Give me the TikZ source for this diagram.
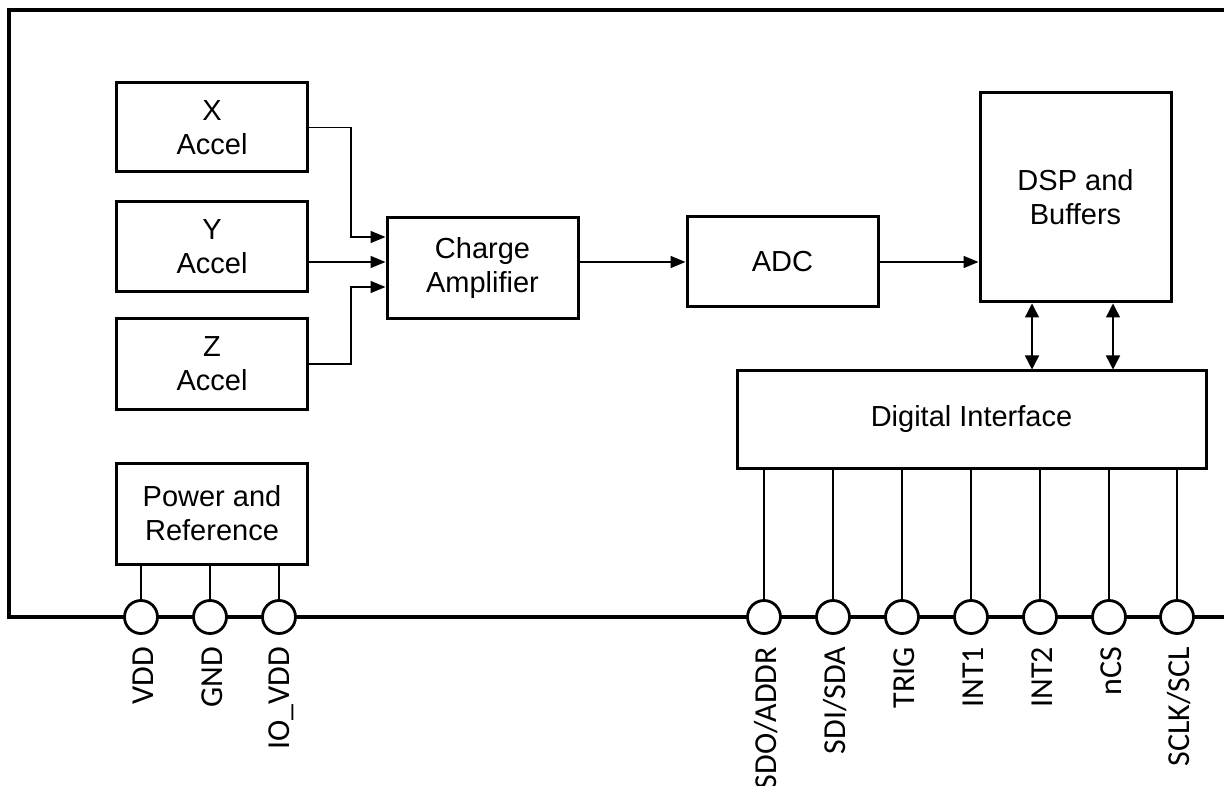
\documentclass[tikz,border=0pt]{standalone}
\usepackage{fontspec}
\setmainfont{Liberation Sans}
\newfontfamily\pinfont{Carlito}
\usetikzlibrary{arrows.meta}
\begin{document}
\begin{tikzpicture}[x=1pt,y=-1pt,
  blk/.style={draw,line width=3pt,inner sep=0pt,align=center,
    font=\fontsize{29}{34}\selectfont},
  conn/.style={line width=1.4pt},
  arr/.style={conn,-{Triangle[length=15pt,width=12pt]}},
  darr/.style={conn,{Triangle[length=14pt,width=14pt]}-{Triangle[length=14pt,width=14pt]}},
  pin/.style={circle,draw,fill=white,line width=2.8pt,minimum size=33pt,inner sep=0pt},
  pinlbl/.style={rotate=90,anchor=east,inner sep=0pt,font=\pinfont\fontsize{32}{32}\selectfont},
  frame/.style={line width=3.2pt}]
\useasboundingbox (0,0) rectangle (1224,786);
% outer frame
\draw[frame] (1224,10) -- (9,10) -- (9,617) -- (1224,617);
% blocks
\node[blk,minimum width=191pt,minimum height=89pt] (xacc) at (212,127.5) {X\\Accel};
\node[blk,minimum width=191pt,minimum height=90pt] (yacc) at (212,247) {Y\\Accel};
\node[blk,minimum width=191pt,minimum height=90pt] (zacc) at (212,364) {Z\\Accel};
\node[blk,minimum width=191pt,minimum height=101pt] (ca) at (482.5,268.5) {Charge\\Amplifier};
\node[blk,minimum width=191pt,minimum height=90pt] (adc) at (782.5,262) {ADC};
\node[blk,minimum width=191pt,minimum height=209pt] (dsp) at (1075.5,197.5) {DSP and\\Buffers};
\node[blk,minimum width=469pt,minimum height=97pt] (di) at (971.5,419.5) {Digital Interface};
\node[blk,minimum width=191pt,minimum height=101pt] (pwr) at (212,513.5) {Power and\\Reference};
% connector bend points
\coordinate (xb1) at (351,127.5);
\coordinate (xb2) at (351,237);
\coordinate (zb1) at (351,364);
\coordinate (zb2) at (351,287);
\draw[arr] (xacc.east) -- (xb1) -- (xb2) -- (ca.west |- xb2);
\draw[arr] (yacc.east |- adc.west) -- (ca.west |- adc.west);
\draw[arr] (zacc.east) -- (zb1) -- (zb2) -- (ca.west |- zb2);
\draw[arr] (ca.east |- adc.west) -- (adc.west);
\draw[arr] (adc.east) -- (dsp.west |- adc.east);
\coordinate (da) at (1032,0);
\coordinate (db) at (1113,0);
\draw[darr] (da |- dsp.south) -- (da |- di.north);
\draw[darr] (db |- dsp.south) -- (db |- di.north);
% pins
\foreach \n/\x/\src in {p1/141/pwr,p2/210/pwr,p3/279/pwr,p4/764/di,p5/833/di,
  p6/902/di,p7/971/di,p8/1040/di,p9/1109/di,p10/1177/di}{
  \node[pin] (\n) at (\x,617) {};
  \draw[conn] (\src.south -| \n) -- (\n.north);
}
\node[pinlbl] (l1) at ([xshift=2pt,yshift=-12pt]p1.south) {VDD};
\node[pinlbl] (l2) at ([xshift=2pt,yshift=-12pt]p2.south) {GND};
\node[pinlbl] (l3) at ([xshift=2pt,yshift=-12pt]p3.south) {IO\_VDD};
\node[pinlbl] (l4) at ([xshift=2pt,yshift=-12pt]p4.south) {SDO/ADDR};
\node[pinlbl] (l5) at ([xshift=2pt,yshift=-12pt]p5.south) {SDI/SDA};
\node[pinlbl] (l6) at ([xshift=2pt,yshift=-12pt]p6.south) {TRIG};
\node[pinlbl] (l7) at ([xshift=2pt,yshift=-12pt]p7.south) {INT1};
\node[pinlbl] (l8) at ([xshift=2pt,yshift=-12pt]p8.south) {INT2};
\node[pinlbl] (l9) at ([xshift=2pt,yshift=-12pt]p9.south) {nCS};
\node[pinlbl] (l10) at ([xshift=2pt,yshift=-12pt]p10.south) {SCLK/SCL};
\end{tikzpicture}
\end{document}
